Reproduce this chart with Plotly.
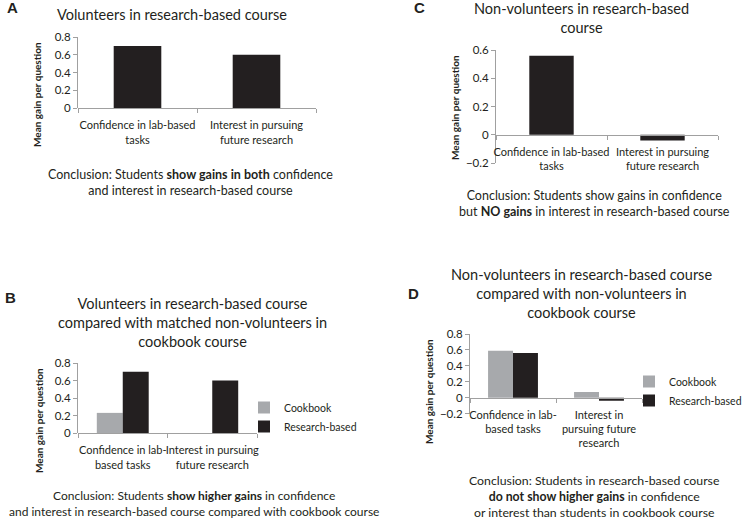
import plotly.graph_objects as go

# ---------------- data ----------------
categories = ["Confidence in lab-based tasks", "Interest in pursuing future research"]
ticks_A = ["Confidence in lab-based<br>tasks", "Interest in pursuing<br>future research"]
ticks_B = ["Confidence in lab-<br>based tasks", "Interest in pursuing<br>future research"]
ticks_C = ["Confidence in lab-based<br>tasks", "Interest in pursuing<br>future research"]
ticks_D = ["Confidence in lab-<br>based tasks", "Interest in<br>pursuing future<br>research"]

A_research = [0.70, 0.60]          # volunteers, research-based course
C_research = [0.56, -0.04]         # non-volunteers, research-based course
B_cookbook = [0.23, 0.0]           # matched non-volunteers, cookbook
B_research = [0.70, 0.60]          # volunteers, research-based
D_cookbook = [0.59, 0.07]          # non-volunteers, cookbook
D_research = [0.56, -0.04]         # non-volunteers, research-based

# ---------------- styling ----------------
W, H = 743, 520
FONT = "Lato"
BLACK = "#231f20"
GREY = "#a7a9ac"
AXIS = "#a0a0a0"
TXT = "#231f20"

def fx(px):
    return px / W

def fy(py):
    return 1 - py / H

fig = go.Figure()

# panel A
fig.add_trace(go.Bar(x=categories, y=A_research, marker_color=BLACK, width=0.4,
                     showlegend=False, xaxis="x", yaxis="y", name="Research-based"))
# panel C
fig.add_trace(go.Bar(x=categories, y=C_research, marker_color=BLACK, width=0.4,
                     showlegend=False, xaxis="x2", yaxis="y2", name="Research-based"))
# panel B
fig.add_trace(go.Bar(x=categories, y=B_cookbook, marker_color=GREY, width=0.29, offset=-0.29,
                     name="Cookbook", legend="legend", xaxis="x3", yaxis="y3"))
fig.add_trace(go.Bar(x=categories, y=B_research, marker_color=BLACK, width=0.29, offset=0,
                     name="Research-based", legend="legend", xaxis="x3", yaxis="y3"))
# panel D
fig.add_trace(go.Bar(x=categories, y=D_cookbook, marker_color=GREY, width=0.29, offset=-0.29,
                     name="Cookbook", legend="legend2", xaxis="x4", yaxis="y4"))
fig.add_trace(go.Bar(x=categories, y=D_research, marker_color=BLACK, width=0.29, offset=0,
                     name="Research-based", legend="legend2", xaxis="x4", yaxis="y4"))

panels = {
    # key: (x0px, x1px, ytop_px, ybot_px, yrange, ticktext)
    "1": (78, 316, 37, 108, [0, 0.8], ticks_A),
    "2": (496, 718, 50, 163, [-0.2, 0.6], ticks_C),
    "3": (78, 257, 363, 433, [0, 0.8], ticks_B),
    "4": (470, 642, 334, 413.6, [-0.2, 0.8], ticks_D),
}

layout = dict(
    template="none",
    width=W, height=H, margin=dict(l=0, r=0, t=0, b=0, autoexpand=False),
    paper_bgcolor="white", plot_bgcolor="white",
    font=dict(family=FONT, color=TXT, size=11),
    barmode="overlay",
)

for k, (x0, x1, yt, yb, yr, tt) in panels.items():
    suf = "" if k == "1" else k
    ydom = [fy(yb), fy(yt)]
    zero_pos = ydom[0] + (0 - yr[0]) / (yr[1] - yr[0]) * (ydom[1] - ydom[0])
    layout["xaxis" + suf] = dict(
        domain=[fx(x0), fx(x1)], anchor="free", position=zero_pos,
        type="category", categoryorder="array", categoryarray=categories,
        tickmode="array", tickvals=categories, ticktext=tt, tickangle=0,
        showline=True, linecolor=AXIS, linewidth=1,
        ticks="outside", tickson="boundaries", ticklen=4, tickcolor=AXIS,
        ticklabelstandoff=7,
        tickfont=dict(size=11, family=FONT, color=TXT),
        showgrid=False, zeroline=False, fixedrange=True, automargin=False,
        range=[-0.5, 1.5],
    )
    layout["yaxis" + suf] = dict(
        domain=ydom, anchor="x" + suf, range=yr, dtick=0.2, tick0=0,
        showline=True, linecolor=AXIS, linewidth=1,
        ticks="outside", ticklen=4, tickcolor=AXIS,
        tickfont=dict(size=11.5, family=FONT, color=TXT),
        showgrid=False, zeroline=False, fixedrange=True, automargin=False,
        tickformat="~g",
    )

layout["legend"] = dict(x=fx(244), y=fy(393), xanchor="left", yanchor="top",
                        font=dict(size=10.5, family=FONT, color=TXT), bgcolor="rgba(0,0,0,0)")
layout["legend2"] = dict(x=fx(629), y=fy(367), xanchor="left", yanchor="top",
                         font=dict(size=10.5, family=FONT, color=TXT), bgcolor="rgba(0,0,0,0)")

fig.update_layout(**layout)

def ann(text, xpx, ypx, size, bold=False, angle=0, family=FONT):
    fig.add_annotation(
        text=f"<b>{text}</b>" if bold else text,
        x=fx(xpx), y=fy(ypx), xref="paper", yref="paper",
        xanchor="center", yanchor="middle", showarrow=False, textangle=angle,
        font=dict(size=size, family=family, color=TXT), align="center",
    )

# panel letters
for letter, xp, yp in [("A", 12.5, 8), ("B", 10, 297), ("C", 419, 8), ("D", 413, 293)]:
    ann(letter, xp, yp, 15, bold=True, family="Liberation Sans")

# titles
ann("Volunteers in research-based course", 172, 14, 14.5)
ann("Non-volunteers in research-based<br>course", 581, 18.5, 14.5)
ann("Volunteers in research-based course<br>compared with matched non-volunteers in<br>cookbook course", 192, 322, 14.5)
ann("Non-volunteers in research-based course<br>compared with non-volunteers in<br>cookbook course", 581, 293.5, 14.5)

# y-axis titles
for xp, yp in [(37, 95), (455, 108), (39, 421), (429, 392)]:
    ann("Mean gain per question", xp, yp, 10, bold=True, angle=-90)

# conclusions
ann("Conclusion: Students <b>show gains in both</b> confidence<br>and interest in research-based course", 190, 182, 12.5)
ann("Conclusion: Students show gains in confidence<br>but <b>NO gains</b> in interest in research-based course", 594, 203.5, 12.5)
ann("Conclusion: Students <b>show higher gains</b> in confidence<br>and interest in research-based course compared with cookbook course", 194, 503.5, 12)
ann("Conclusion: Students in research-based course<br><b>do not show higher gains</b> in confidence<br>or interest than students in cookbook course", 594, 496, 12.3)

fig.write_html("out.html", config={"displayModeBar": False},
               post_script="document.body.style.margin='0px';")
